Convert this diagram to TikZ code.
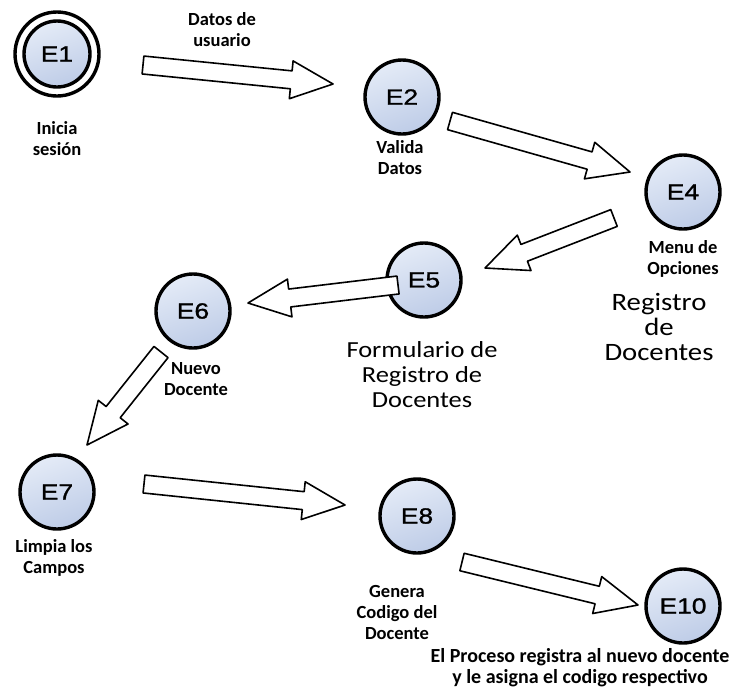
\documentclass[tikz,border=0pt]{standalone}
\usepackage{fontspec}
\setmainfont{Carlito}
\newfontfamily\statefont[FakeStretch=1.2,FakeBold=1.2]{Liberation Sans}
\newfontfamily\bigfont[FakeStretch=1.15]{Carlito}
\usetikzlibrary{calc,fadings,backgrounds}

\definecolor{stlight}{RGB}{228,235,247}
\definecolor{stdark}{RGB}{190,204,231}

\tikzset{
  statenode/.style={circle, draw=black, line width=3.4pt, minimum size=74pt,
    inner sep=0pt, top color=stlight, bottom color=stdark, shading angle=20,
    font=\statefont\fontsize{22}{22}\selectfont},
  smalllabel/.style={align=center, font=\bfseries\fontsize{18.5}{21}\selectfont, inner sep=0pt},
  biglabel/.style={align=center, font=\bigfont\fontsize{23}{25}\selectfont, inner sep=0pt},
  fatarrow/.style={draw=black, line width=1.6pt, fill=white, line join=round},
  softshadow/.style={fill=black!18, path fading=circle with fuzzy edge 20 percent}
}

% block arrow from tail #1 to tip #2
\newcommand{\fatarrowpath}[2]{%
  \path ($(#2)!42pt!(#1)$) coordinate (fa-base);
  \draw[fatarrow] ($(#1)!9pt!90:(#2)$) -- ($(fa-base)!9pt!90:(#2)$)
    -- ($(fa-base)!19pt!90:(#2)$) -- (#2) -- ($(fa-base)!19pt!-90:(#2)$)
    -- ($(fa-base)!9pt!-90:(#2)$) -- ($(#1)!9pt!-90:(#2)$) -- cycle;}

\begin{document}
\begin{tikzpicture}[x=1pt,y=-1pt]
\useasboundingbox[fill=white] (0,0) rectangle (735,689);

% states
\node[statenode, minimum size=66pt] (E1) at (57,54) {E1};
\draw[line width=3.4pt] (E1.center) circle[radius=42pt];
\node[statenode] (E2) at (402,97) {E2};
\node[statenode] (E4) at (683,192) {E4};
\node[statenode] (E5) at (424,280) {E5};
\node[statenode] (E6) at (193,311) {E6};
\node[statenode] (E7) at (57,492) {E7};
\node[statenode] (E8) at (417,516) {E8};
\node[statenode] (E10) at (683,606) {E10};

% soft shadows behind the states
\begin{scope}[on background layer]
  \foreach \s in {E1,E2,E4,E5,E6,E7,E8,E10}
    \fill[softshadow] ($(\s)+(5,5)$) circle[radius=41pt];
\end{scope}

% transitions
\coordinate (t1) at (143,65);  \coordinate (h1) at (333,84);
\coordinate (t2) at (450,121); \coordinate (h2) at (630,172);
\coordinate (t3) at (614,218); \coordinate (h3) at (485,268);
\coordinate (t4) at (398,285); \coordinate (h4) at (248,303);
\coordinate (t5) at (161,352); \coordinate (h5) at (87,445);
\coordinate (t6) at (144,484); \coordinate (h6) at (345,505);
\coordinate (t7) at (462,562); \coordinate (h7) at (638,605);
\fatarrowpath{t1}{h1}
\fatarrowpath{t2}{h2}
\fatarrowpath{t3}{h3}
\fatarrowpath{t4}{h4}
\fatarrowpath{t5}{h5}
\fatarrowpath{t6}{h6}
\fatarrowpath{t7}{h7}

% labels
\node[smalllabel] (l0) at (222,30) {Datos de\\usuario};
\node[smalllabel] (l1) at (57,139) {Inicia\\sesión};
\node[smalllabel] (l2) at (400,158) {Valida\\Datos};
\node[smalllabel] (l4) at (683,259) {Menu de\\Opciones};
\node[biglabel, font=\bigfont\fontsize{25}{25}\selectfont] (l4b) at (659,327) {Registro\\de\\Docentes};
\node[biglabel] (l5) at (422,375) {Formulario de\\Registro de\\Docentes};
\node[smalllabel] (l6) at (196,379) {Nuevo\\Docente};
\node[smalllabel] (l7) at (54,558) {Limpia los\\Campos};
\node[smalllabel] (l8) at (397,612) {Genera\\Codigo del\\Docente};
\node[smalllabel, font=\bfseries\fontsize{20}{21}\selectfont] (l10) at (580,668) {El Proceso registra al nuevo docente\\y le asigna el codigo respectivo};
\end{tikzpicture}
\end{document}
